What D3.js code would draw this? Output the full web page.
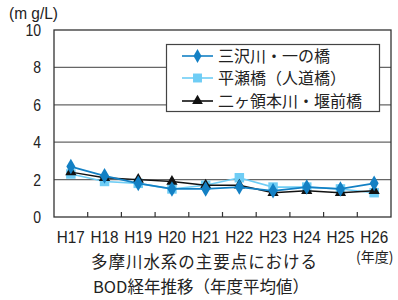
<!DOCTYPE html>
<html><head><meta charset="utf-8">
<script src="https://cdn.jsdelivr.net/npm/d3@7"></script>
<style>body{margin:0;background:#fff}svg{display:block}</style>
</head><body>
<svg id="c" width="398" height="300"></svg>
<script>
const categories = ["H17","H18","H19","H20","H21","H22","H23","H24","H25","H26"];
const misawa = [2.7,2.2,1.8,1.5,1.5,1.6,1.4,1.6,1.5,1.8];
const hirase = [2.3,1.9,1.8,1.5,1.7,2.1,1.6,1.6,1.5,1.3];
const nikaryo = [2.4,2.1,2.0,1.9,1.7,1.7,1.3,1.4,1.3,1.4];
const yTicks = [0,2,4,6,8,10];
const seriesNames = ["三沢川・一の橋","平瀬橋（人道橋）","二ヶ領本川・堰前橋"];

const svg = d3.select("#c");
const L=54, R=391, T=30, B=217;
const x = d3.scaleBand().domain(categories).range([L,R]);
const y = d3.scaleLinear().domain([0,10]).range([B,T]);
const font = "'Liberation Sans',Arial,sans-serif";
const jfont = "'Noto Sans CJK JP',sans-serif";

// grid
svg.append("g").selectAll("line").data(yTicks.filter(d=>d>0&&d<10)).join("line")
  .attr("x1",L).attr("x2",R).attr("y1",d=>y(d)).attr("y2",d=>y(d))
  .attr("stroke","#666").attr("stroke-width",1.2);
// frame
svg.append("rect").attr("x",L).attr("y",T).attr("width",R-L).attr("height",B-T)
  .attr("fill","none").attr("stroke","#333").attr("stroke-width",1.3);
// bottom ticks (inward)
const xb = categories.slice(1).map(c=>x(c));
svg.append("g").selectAll("line").data(xb).join("line")
  .attr("x1",d=>d).attr("x2",d=>d).attr("y1",B).attr("y2",B-5)
  .attr("stroke","#333").attr("stroke-width",1.2);
// y tick labels
svg.append("g").selectAll("text").data(yTicks).join("text")
  .attr("x",41).attr("y",d=>y(d)+6).attr("text-anchor","end")
  .attr("font-family",font).attr("font-size",17).attr("fill","#222")
  .attr("textLength",d=>String(d).length*7.8).attr("lengthAdjust","spacingAndGlyphs").text(d=>d);
svg.append("text").attr("x",9).attr("y",19).attr("font-family",font).attr("font-size",16)
  .attr("textLength",49).attr("lengthAdjust","spacingAndGlyphs")
  .attr("fill","#222").text("(m g/L)");
// x labels
svg.append("g").selectAll("text").data(categories).join("text")
  .attr("x",d=>x(d)+x.bandwidth()/2).attr("y",243).attr("text-anchor","middle")
  .attr("font-family",font).attr("font-size",16).attr("fill","#222")
  .attr("textLength",28).attr("lengthAdjust","spacingAndGlyphs").text(d=>d);
svg.append("text").attr("x",356).attr("y",262).attr("font-family",jfont)
  .attr("font-size",14).attr("fill","#222").text("(年度)");
svg.append("text").attr("x",204).attr("y",268).attr("text-anchor","middle").attr("font-family",jfont)
  .attr("font-size",16.5).attr("fill","#222").attr("textLength",226).attr("lengthAdjust","spacing")
  .text("多摩川水系の主要点における");
svg.append("text").attr("x",201).attr("y",293).attr("text-anchor","middle").attr("font-family",jfont)
  .attr("font-size",16.5).attr("fill","#222").text("BOD経年推移（年度平均値）");

const cx = d=>x(d)+x.bandwidth()/2;
const series = [
  {vals:hirase, color:"#6fcdf5", shape:d3.symbolSquare, size:90, w:1.6},
  {vals:nikaryo, color:"#111", shape:d3.symbolTriangle, size:55, w:1.4},
  {vals:misawa, color:"#1380c4", shape:d3.symbolDiamond, size:70, w:1.8}
];
series.forEach(s=>{
  const line = d3.line().x((d,i)=>cx(categories[i])).y(d=>y(d));
  svg.append("path").datum(s.vals).attr("d",line).attr("fill","none")
    .attr("stroke",s.color).attr("stroke-width",s.w);
  svg.append("g").selectAll("path").data(s.vals).join("path")
    .attr("transform",(d,i)=>`translate(${cx(categories[i])},${y(d)})`)
    .attr("d",d3.symbol().type(s.shape).size(s.size)).attr("fill",s.color);
});

// legend
const lg = svg.append("g");
lg.append("rect").attr("x",166.5).attr("y",44.5).attr("width",213).attr("height",67)
  .attr("fill","#fff").attr("stroke","#444").attr("stroke-width",1.2);
const legendItems = [
  {name:seriesNames[0], color:"#1380c4", shape:d3.symbolDiamond, size:55},
  {name:seriesNames[1], color:"#6fcdf5", shape:d3.symbolSquare, size:80},
  {name:seriesNames[2], color:"#111", shape:d3.symbolTriangle, size:50}
];
legendItems.forEach((it,i)=>{
  const yy = [56,78,101][i];
  lg.append("line").attr("x1",182).attr("x2",213).attr("y1",yy).attr("y2",yy)
    .attr("stroke",it.color).attr("stroke-width",1.6);
  lg.append("path").attr("transform",`translate(197.5,${yy})`)
    .attr("d",d3.symbol().type(it.shape).size(it.size)).attr("fill",it.color);
  lg.append("text").attr("x",218).attr("y",yy+6).attr("font-family",jfont)
    .attr("font-size",16).attr("fill","#222").text(it.name);
});
</script>
</body></html>
